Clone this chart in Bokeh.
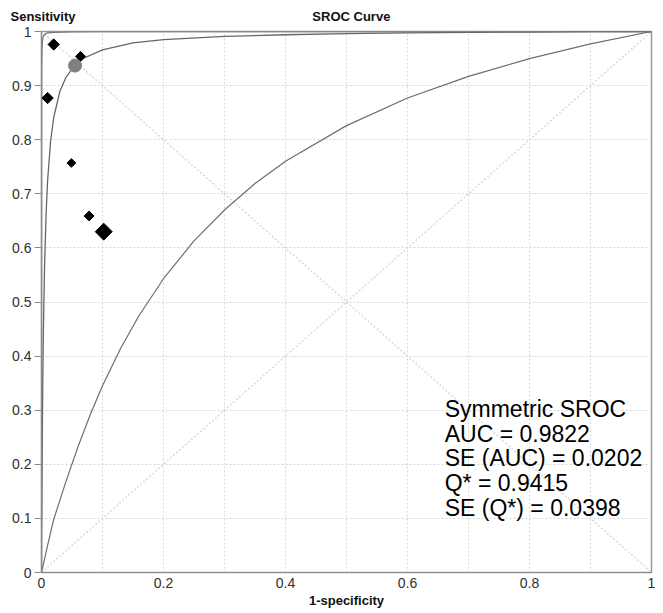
import math
from bokeh.plotting import figure
from bokeh.models import FixedTicker, Label, Range1d, ColumnDataSource, LinearAxis
from bokeh.embed import file_html
from bokeh.resources import INLINE

# ---------------- data ----------------
study_fpr = [0.020, 0.064, 0.010, 0.049, 0.078, 0.102]
study_sens = [0.976, 0.954, 0.877, 0.757, 0.659, 0.630]

qstar_fpr = [0.055]
qstar_sens = [0.937]

# symmetric SROC curve
sroc_fpr = [0.0, 0.0005, 0.001, 0.002, 0.003, 0.005, 0.0075, 0.01, 0.015, 0.02,
            0.03, 0.04, 0.055, 0.07, 0.1, 0.15, 0.2, 0.3, 0.4, 0.5, 0.6, 0.7,
            0.8, 0.9, 1.0]
sroc_sens = [0.0, 0.115, 0.206, 0.342, 0.438, 0.566, 0.662, 0.724, 0.798, 0.841,
             0.889, 0.915, 0.938, 0.951, 0.966, 0.979, 0.985, 0.991, 0.994, 0.996,
             0.9974, 0.9983, 0.999, 0.9996, 1.0]

# upper confidence curve
upper_fpr = [0.000003, 0.00001, 0.00003, 0.00006, 0.0001, 0.0002, 0.0004, 0.0007,
             0.001, 0.0015, 0.002, 0.003, 0.005, 0.007, 0.01, 0.02, 0.05, 0.1,
             0.2, 0.4, 0.7, 1.0]
upper_sens = [0.098, 0.265, 0.519, 0.684, 0.783, 0.878, 0.935, 0.962,
              0.973, 0.982, 0.986, 0.991, 0.9945, 0.9961, 0.9973, 0.9986, 0.9995, 0.99975,
              0.9999, 0.99996, 0.99999, 1.0]

# lower confidence curve
lower_fpr = [0.0, 0.01, 0.02, 0.04, 0.06, 0.08, 0.1, 0.13, 0.16, 0.2, 0.25, 0.3,
             0.35, 0.4, 0.5, 0.6, 0.7, 0.8, 0.9, 1.0]
lower_sens = [0.0, 0.050, 0.098, 0.168, 0.233, 0.292, 0.345, 0.415, 0.475, 0.543,
              0.613, 0.670, 0.719, 0.760, 0.826, 0.877, 0.917, 0.950, 0.977, 1.0]

# reference diagonals
diag_x = [0.0, 1.0]
diag_y = [0.0, 1.0]
anti_y = [1.0, 0.0]

x_ticks = [0.0, 0.2, 0.4, 0.6, 0.8, 1.0]
x_tick_labels = ["0", "0.2", "0.4", "0.6", "0.8", "1"]
y_ticks = [0.0, 0.1, 0.2, 0.3, 0.4, 0.5, 0.6, 0.7, 0.8, 0.9, 1.0]
y_tick_labels = ["0", "0.1", "0.2", "0.3", "0.4", "0.5", "0.6", "0.7", "0.8", "0.9", "1"]
grid_ticks = [0.1, 0.2, 0.3, 0.4, 0.5, 0.6, 0.7, 0.8, 0.9]

title_text = "SROC Curve"
x_label = "1-specificity"
y_label = "Sensitivity"
stats_lines = ["Symmetric SROC", "AUC = 0.9822", "SE (AUC) = 0.0202",
               "Q* = 0.9415", "SE (Q*) = 0.0398"]

# ---------------- styling ----------------
FONT = "Liberation Sans"
marker_sizes = [8.0, 7.0, 8.0, 6.2, 7.0, 12.0]
header_pos = [0.0025, 0.508]   # horizontal placement of the two header texts

p = figure(width=660, height=611, output_backend="svg", toolbar_location=None,
           x_range=Range1d(0, 1), y_range=Range1d(0, 1),
           min_border_left=41, min_border_right=9, min_border_top=31, min_border_bottom=39)
p.background_fill_color = "white"
p.border_fill_color = "white"
p.outline_line_color = "#9a9a9a"
p.outline_line_width = 1.5

for g in (p.xgrid, p.ygrid):
    g.ticker = FixedTicker(ticks=grid_ticks)
    g.grid_line_color = "#d6d6d6"
    g.grid_line_dash = "2 2"
    g.grid_line_width = 1

xa = p.xaxis[0]
xa.ticker = FixedTicker(ticks=x_ticks)
xa.major_label_overrides = dict(zip(x_ticks, x_tick_labels))
xa.major_tick_out = 0
xa.major_tick_in = 0
xa.minor_tick_out = 0
xa.minor_tick_in = 0
xa.major_label_standoff = 5
xa.axis_label = x_label
xa.axis_label_standoff = 2
xa.axis_label_text_font = FONT
xa.axis_label_text_font_style = "bold"
xa.axis_label_text_font_size = "13px"
xa.axis_label_text_color = "#111111"

ya = p.yaxis[0]
ya.ticker = FixedTicker(ticks=y_ticks)
ya.major_label_overrides = dict(zip(y_ticks, y_tick_labels))
ya.major_tick_out = 7
ya.major_tick_in = 0
ya.minor_tick_out = 0
ya.minor_tick_in = 0
ya.major_label_standoff = 3

for ax in (xa, ya):
    ax.axis_line_color = "#8a8a8a"
    ax.axis_line_width = 1.2
    ax.major_tick_line_color = "#8a8a8a"
    ax.major_label_text_font = FONT
    ax.major_label_text_font_size = "14px"
    ax.major_label_text_color = "#303030"

# header texts ("Sensitivity" and "SROC Curve") drawn as labels of a bare top axis
top = LinearAxis(ticker=FixedTicker(ticks=header_pos),
                 major_label_overrides=dict(zip(header_pos, [y_label, title_text])),
                 axis_line_color=None, major_tick_line_color=None, minor_tick_line_color=None,
                 major_label_standoff=2, major_label_text_font=FONT,
                 major_label_text_font_style="bold", major_label_text_font_size="13px",
                 major_label_text_color="#111111")
p.add_layout(top, "above")

# diagonals
p.line(diag_x, diag_y, line_color="#dadada", line_width=1.5, line_dash="2 2")
p.line(diag_x, anti_y, line_color="#dadada", line_width=1.5, line_dash="2 2")

# curves
p.line(upper_fpr, upper_sens, line_color="#777777", line_width=1.3)
p.line(lower_fpr, lower_sens, line_color="#6e6e6e", line_width=1.2)
p.line(sroc_fpr, sroc_sens, line_color="#666666", line_width=1.3)

# studies
src = ColumnDataSource(dict(x=study_fpr, y=study_sens, s=marker_sizes))
p.scatter("x", "y", source=src, marker="square", size="s", angle=math.pi / 4,
          fill_color="black", line_color="black")

# Q* point
p.scatter(qstar_fpr, qstar_sens, marker="circle", size=13,
          fill_color="#808080", line_color="#808080")

# stats box
y0 = 0.302
step = 0.0455
for i, line in enumerate(stats_lines):
    p.add_layout(Label(x=0.661, y=y0 - i * step, text=line, text_font=FONT,
                       text_font_size="23px", text_align="left",
                       text_baseline="middle", text_color="black"))

open("out.html", "w").write(file_html(p, INLINE))
